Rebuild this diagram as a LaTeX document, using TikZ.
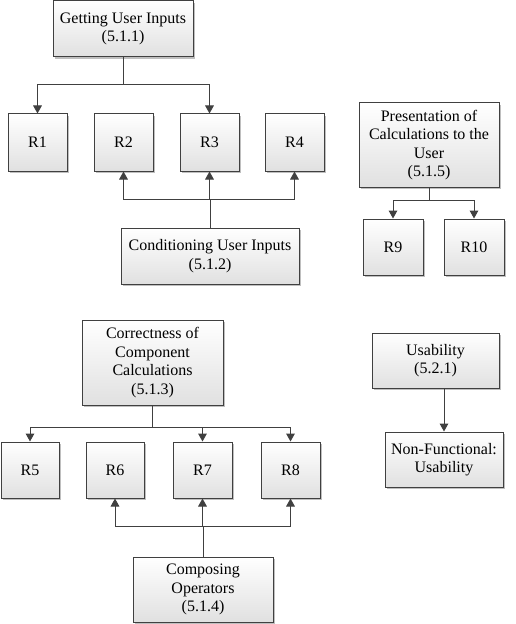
\documentclass[tikz,border=0pt]{standalone}
\usepackage{fontspec}
\setmainfont{Liberation Serif}
\usetikzlibrary{arrows.meta,shadows}
\definecolor{linec}{HTML}{404040}
\begin{document}
\begin{tikzpicture}[x=0.75pt,y=-0.75pt,
  box/.style 2 args={draw=linec, line width=0.75pt, top color=white, bottom color=black!12,
    minimum width=#1*0.75pt, minimum height=#2*0.75pt, inner sep=1pt, align=center,
    font=\fontsize{12}{13.8}\selectfont,
    drop shadow={shadow xshift=1.6pt, shadow yshift=-1.6pt, fill=black!25, opacity=1}},
  conn/.style={draw=linec, line width=0.75pt},
  arr/.style={conn, -{Triangle[length=6pt,width=6.5pt]}}]
\useasboundingbox (0,0) rectangle (515,624);
% group 1
\node[box={140}{56}] (g1) at (123,29) {Getting User Inputs\\(5.1.1)};
\node[box={59}{57}] (r1) at (37.5,142.5) {R1};
\node[box={59}{57}] (r2) at (123.5,142.5) {R2};
\node[box={59}{57}] (r3) at (209.5,142.5) {R3};
\node[box={59}{57}] (r4) at (294.5,142.5) {R4};
\node[box={178}{56}] (cond) at (210,256) {Conditioning User Inputs\\(5.1.2)};
\coordinate (j1) at (123,85);
\coordinate (j2) at (210,199);
\draw[conn] (g1.south) -- (j1);
\draw[arr] (j1) -| (r1.north);
\draw[arr] (j1) -| (r3.north);
\draw[conn] (cond.north) -- (j2);
\draw[arr] (j2) -| (r2.south);
\draw[arr] (j2) -| (r3.south);
\draw[arr] (j2) -| (r4.south);
% group presentation
\node[box={140}{84}] (pres) at (429,145) {Presentation of\\Calculations to the\\User\\(5.1.5)};
\node[box={60}{56}] (r9) at (393,247) {R9};
\node[box={60}{56}] (r10) at (474,247) {R10};
\coordinate (j3) at (429,200);
\draw[conn] (pres.south) -- (j3);
\draw[arr] (j3) -| (r9.north);
\draw[arr] (j3) -| (r10.north);
% usability
\node[box={127}{55}] (usab) at (435.5,360.5) {Usability\\(5.2.1)};
\node[box={118}{55}] (nf) at (444,459.5) {Non-Functional:\\Usability};
\draw[arr] (usab.south -| nf.north) -- (nf.north);
% group correctness
\node[box={141}{85}] (corr) at (152.5,362.5) {Correctness of\\Component\\Calculations\\(5.1.3)};
\node[box={58}{56}] (r5) at (30,470) {R5};
\node[box={58}{56}] (r6) at (115,470) {R6};
\node[box={59}{56}] (r7) at (202.5,470) {R7};
\node[box={59}{56}] (r8) at (290.5,470) {R8};
\node[box={140}{65}] (comp) at (203,589.5) {Composing\\Operators\\(5.1.4)};
\coordinate (j4) at (152.5,427);
\coordinate (j5) at (203,526);
\draw[conn] (corr.south) -- (j4);
\draw[arr] (j4) -| (r5.north);
\draw[arr] (j4) -| (r7.north);
\draw[arr] (j4) -| (r8.north);
\draw[conn] (comp.north) -- (j5);
\draw[arr] (j5) -| (r6.south);
\draw[arr] (j5) -| (r7.south);
\draw[arr] (j5) -| (r8.south);
\end{tikzpicture}
\end{document}
